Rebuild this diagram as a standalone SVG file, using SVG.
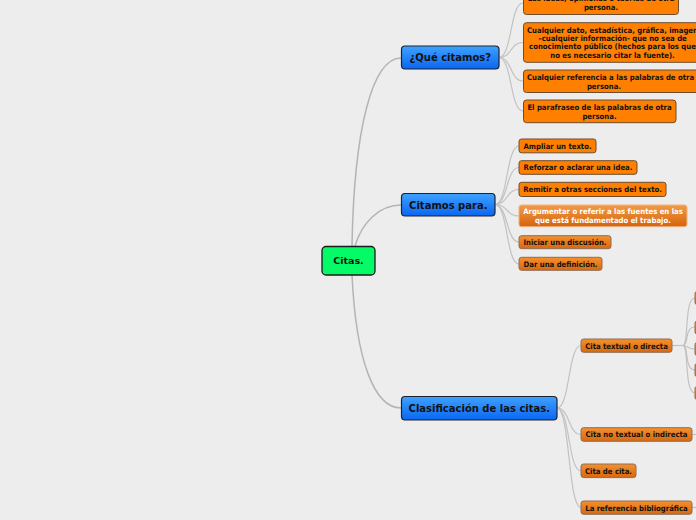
<svg xmlns="http://www.w3.org/2000/svg" width="696" height="520" viewBox="0 0 696 520">
<defs>
<linearGradient id="gBlue" x1="0" y1="0" x2="0" y2="1"><stop offset="0" stop-color="#3fa2ff"/><stop offset="1" stop-color="#0a66f2"/></linearGradient>
<linearGradient id="gOr" x1="0" y1="0" x2="0" y2="1"><stop offset="0" stop-color="#f5902e"/><stop offset="1" stop-color="#d8680e"/></linearGradient>
<linearGradient id="gArg" x1="0" y1="0" x2="0" y2="1"><stop offset="0" stop-color="#f39a48"/><stop offset="1" stop-color="#d4640c"/></linearGradient>
<style>
.bg{fill:#ededed}
.con{fill:none;stroke:#c2c2c2;stroke-width:1.2}
.main{fill:none;stroke:#b4b4b4;stroke-width:1.5}
.root{fill:#05fa68;stroke:#1a1a1a;stroke-width:1.3}
.blue{fill:url(#gBlue);stroke:#1c2230;stroke-width:1.2}
.or{fill:#ff8000;stroke:#6e4c2c;stroke-width:1}
.org{fill:url(#gOr);stroke:#8a6e5a;stroke-width:1}
.arg{fill:url(#gArg);stroke:#f2b47e;stroke-width:1}
text{font-family:"DejaVu Sans","Verdana",sans-serif;font-weight:bold;text-anchor:middle;fill:#111}
.t1{font-size:10px}
.t0{font-size:9.5px}
.t2{font-family:"DejaVu Sans Condensed","DejaVu Sans",sans-serif;font-size:7.7px}
.w{fill:#fff}
</style>
</defs>
<rect class="bg" x="0" y="0" width="696" height="520"/>
<g id="connectors">
<path class="main" d="M352,246 C354,130 372,58 401,58"/>
<path class="main" d="M355,246 C362,222 380,205 401,205"/>
<path class="main" d="M352,275 C356,360 374,408 401,408"/>
<path class="con" d="M499,57.5 C512,57.5 510,3 523,3"/>
<path class="con" d="M499,57.5 C512,57.5 510,42.5 523,42.5"/>
<path class="con" d="M499,57.5 C512,57.5 510,81 523,81"/>
<path class="con" d="M499,57.5 C512,57.5 510,111 523,111"/>
<path class="con" d="M495,204.5 C508,204.5 506,146 519,146"/>
<path class="con" d="M495,204.5 C508,204.5 506,167.5 519,167.5"/>
<path class="con" d="M495,204.5 C508,204.5 506,189.5 519,189.5"/>
<path class="con" d="M495,204.5 C508,204.5 506,216 519,216"/>
<path class="con" d="M495,204.5 C508,204.5 506,242 519,242"/>
<path class="con" d="M495,204.5 C508,204.5 506,264 519,264"/>
<path class="con" d="M557,408 C570,408 568,345.5 581,345.5"/>
<path class="con" d="M557,408 C570,408 568,434.5 581,434.5"/>
<path class="con" d="M557,408 C570,408 568,471 581,471"/>
<path class="con" d="M557,408 C570,408 568,507.5 581,507.5"/>
<path class="con" d="M672,345.5 H683"/>
<path class="con" d="M683,345.5 C689,345.5 684,298 695,298"/>
<path class="con" d="M683,345.5 C689,345.5 684,327 695,327"/>
<path class="con" d="M683,345.5 C689,345.5 686,349 695,349"/>
<path class="con" d="M683,345.5 C689,345.5 684,370 695,370"/>
<path class="con" d="M683,345.5 C689,345.5 684,393 695,393"/>
<path class="con" d="M692,434.5 H696"/>
<path class="con" d="M692,507.5 H696"/>
</g>
<g id="n-citas"><rect class="root" x="322" y="246.5" width="53" height="28.5" rx="4"/><text class="t0" x="348.5" y="264.3">Citas.</text></g>
<g id="n-que"><rect class="blue" x="401.5" y="46" width="97.5" height="23" rx="3.5"/><text class="t1" x="450.3" y="61.3">¿Qué citamos?</text></g>
<g id="n-para"><rect class="blue" x="401.5" y="193.5" width="93.5" height="22.5" rx="3.5"/><text class="t1" x="448.3" y="208.5">Citamos para.</text></g>
<g id="n-clas"><rect class="blue" x="401.5" y="396.5" width="155.5" height="23.5" rx="3.5"/><text class="t1" x="479.3" y="411.8">Clasificación de las citas.</text></g>

<g id="q1"><rect class="or" x="523.5" y="-9" width="155" height="23.5" rx="3"/><text class="t2" x="601" y="1.4">Las ideas, opiniones o teorías de otra</text><text class="t2" x="601" y="10.1">persona.</text></g>
<g id="q2"><rect class="or" x="523.5" y="22.7" width="189" height="39.6" rx="3"/><text class="t2" x="612.5" y="32.7">Cualquier dato, estadística, gráfica, imagen</text><text class="t2" x="612.5" y="41">–cualquier información- que no sea de</text><text class="t2" x="612.5" y="49.4">conocimiento público (hechos para los que</text><text class="t2" x="612.5" y="57.7">no es necesario citar la fuente).</text></g>
<g id="q3"><rect class="or" x="523.5" y="70" width="184" height="22.5" rx="3"/><text class="t2" x="610.5" y="80">Cualquier referencia a las palabras de otra</text><text class="t2" x="604" y="88.7">persona.</text></g>
<g id="q4"><rect class="or" x="523.5" y="100" width="152.5" height="22.7" rx="3"/><text class="t2" x="599.5" y="110.4">El parafraseo de las palabras de otra</text><text class="t2" x="599.5" y="119.4">persona.</text></g>

<g id="p1"><rect class="or" x="519" y="139" width="77" height="13.8" rx="2.5"/><text class="t2" x="557.5" y="148.7">Ampliar un texto.</text></g>
<g id="p2"><rect class="or" x="519" y="160.7" width="118" height="13.6" rx="2.5"/><text class="t2" x="578" y="170.2">Reforzar o aclarar una idea.</text></g>
<g id="p3"><rect class="or" x="519" y="182.3" width="147" height="14.2" rx="2.5"/><text class="t2" x="592.5" y="192.2">Remitir a otras secciones del texto.</text></g>
<g id="p4"><rect class="arg" x="519" y="205" width="168" height="21.7" rx="2.5"/><text class="t2 w" x="603" y="213.8">Argumentar o referir a las fuentes en las</text><text class="t2 w" x="603" y="223">que está fundamentado el trabajo.</text></g>
<g id="p5"><rect class="org" x="519" y="235.7" width="92" height="13" rx="2.5"/><text class="t2" x="565" y="245">Iniciar una discusión.</text></g>
<g id="p6"><rect class="org" x="519" y="257.3" width="83" height="13" rx="2.5"/><text class="t2" x="560.5" y="266.6">Dar una definición.</text></g>

<g id="c1"><rect class="org" x="581" y="339" width="91" height="13.3" rx="2.5"/><text class="t2" x="626.5" y="348.5">Cita textual o directa</text></g>
<g id="c2"><rect class="org" x="581" y="427.7" width="111" height="13.6" rx="2.5"/><text class="t2" x="636.5" y="437.3">Cita no textual o indirecta</text></g>
<g id="c3"><rect class="org" x="581" y="464" width="55" height="13.6" rx="2.5"/><text class="t2" x="608.5" y="473.6">Cita de cita.</text></g>
<g id="c4"><rect class="org" x="581" y="501" width="111" height="13.3" rx="2.5"/><text class="t2" x="636.5" y="510.5">La referencia bibliográfica</text></g>

<g id="s1"><rect class="org" x="695" y="291.5" width="20" height="13" rx="2"/></g>
<g id="s2"><rect class="org" x="695" y="321" width="20" height="13" rx="2"/></g>
<g id="s3"><rect class="org" x="695" y="342.5" width="20" height="13" rx="2"/></g>
<g id="s4"><rect class="org" x="695" y="363.5" width="20" height="13" rx="2"/></g>
<g id="s5"><rect class="org" x="695" y="386.5" width="20" height="13" rx="2"/></g>
</svg>
